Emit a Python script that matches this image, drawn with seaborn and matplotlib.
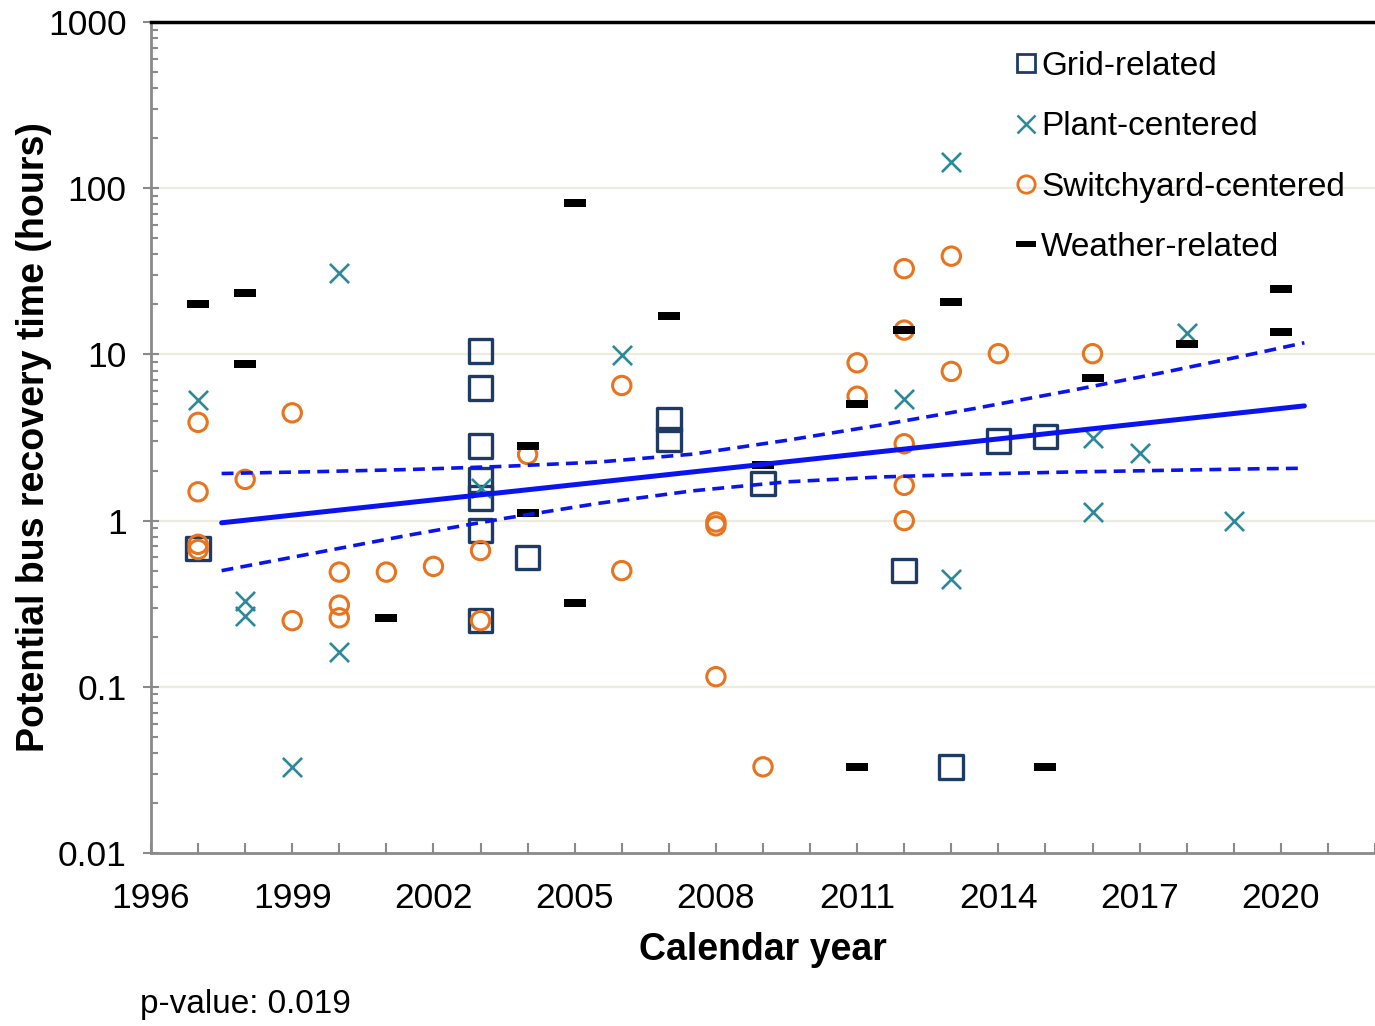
import numpy as np
import pandas as pd
import matplotlib
matplotlib.use("Agg")
import matplotlib.pyplot as plt
from matplotlib.lines import Line2D
from matplotlib.ticker import FixedLocator, FuncFormatter, MultipleLocator, LogLocator, NullFormatter
import seaborn as sns

# Recovery times (hours) by calendar year, per event category
grid_years = [1997, 2003, 2003, 2003, 2003, 2003, 2003, 2003, 2004, 2007, 2007, 2009, 2012, 2013, 2014, 2015]
grid_hours = [0.68, 10.5, 6.3, 2.8, 1.75, 1.37, 0.87, 0.25, 0.6, 4.06, 3.08, 1.67, 0.5, 0.033, 3.0, 3.2]

plant_years = [1997, 1998, 1998, 1999, 2000, 2000, 2003, 2006, 2012, 2013, 2013, 2016, 2016, 2017, 2018, 2019]
plant_hours = [5.3, 0.33, 0.265, 0.033, 31, 0.163, 1.57, 9.9, 5.36, 143, 0.445, 3.15, 1.13, 2.56, 13.5, 1.0]

switch_years = [1997, 1997, 1997, 1997, 1998, 1999, 1999, 2000, 2000, 2000, 2001, 2002, 2003, 2003,
                2004, 2006, 2006, 2008, 2008, 2008, 2009, 2011, 2011, 2012, 2012, 2012, 2012, 2012,
                2013, 2013, 2014, 2016]
switch_hours = [3.9, 1.49, 0.72, 0.67, 1.77, 4.45, 0.25, 0.49, 0.31, 0.26, 0.49, 0.53, 0.66, 0.25,
                2.5, 6.5, 0.5, 0.98, 0.93, 0.115, 0.033, 8.9, 5.6, 32.8, 14, 2.9, 1.63, 1.0,
                39, 7.9, 10.1, 10.1]

weather_years = [1997, 1998, 1998, 2001, 2004, 2004, 2005, 2005, 2007, 2009, 2011, 2011, 2012, 2013,
                 2015, 2016, 2018, 2020, 2020]
weather_hours = [20, 23.3, 8.7, 0.26, 2.83, 1.11, 82, 0.32, 17, 2.15, 5.0, 0.033, 14, 20.6,
                 0.033, 7.2, 11.6, 24.6, 13.6]

# Exponential trend and its confidence band
trend_years = [1997.5, 2020.5]
trend_hours = [0.97, 4.9]
band_years = [1997.5, 1999.5, 2001.5, 2003.5, 2005.5, 2007.5, 2009.5, 2011.5, 2013.5, 2015.5,
              2017.5, 2019.5, 2020.5]
band_upper = [1.92, 1.97, 2.03, 2.12, 2.25, 2.51, 3.04, 3.76, 4.73, 6.03, 7.78, 10.2, 11.75]
band_lower = [0.50, 0.64, 0.82, 1.03, 1.27, 1.51, 1.71, 1.83, 1.905, 1.96, 2.005, 2.05, 2.065]

categories = ["Grid-related", "Plant-centered", "Switchyard-centered", "Weather-related"]
colors = {"Grid-related": "#1f3b64", "Plant-centered": "#2b8a9a",
          "Switchyard-centered": "#e8741e", "Weather-related": "#000000"}
x_ticks = [1996, 1999, 2002, 2005, 2008, 2011, 2014, 2017, 2020]
y_ticks = [0.01, 0.1, 1, 10, 100, 1000]

frames = []
for name, yrs, hrs in [("Grid-related", grid_years, grid_hours),
                       ("Plant-centered", plant_years, plant_hours),
                       ("Switchyard-centered", switch_years, switch_hours),
                       ("Weather-related", weather_years, weather_hours)]:
    frames.append(pd.DataFrame({"year": yrs, "hours": hrs, "category": name}))
events = pd.concat(frames, ignore_index=True)

sns.set_theme(style="white")
plt.rcParams["font.family"] = ["Liberation Sans", "DejaVu Sans"]
plt.rcParams["text.color"] = "black"
plt.rcParams["axes.labelcolor"] = "black"

fig = plt.figure(figsize=(13.75, 10.26), dpi=100)
ax = fig.add_axes([151 / 1375, 1 - 853 / 1026, 1224 / 1375, 831 / 1026])
ax.set_yscale("log")
ax.set_xlim(1996, 2022)
ax.set_ylim(0.01, 1000)

for v in [0.1, 1, 10, 100]:
    ax.axhline(v, color="#ecebde", lw=1.6, zorder=0)

bar_marker = [(-1, -0.34), (1, -0.34), (1, 0.34), (-1, 0.34), (-1, -0.34)]
style = {
    "Grid-related": dict(marker="s", s=290, facecolor="none", linewidth=2.4),
    "Plant-centered": dict(marker="x", s=190, linewidth=1.9),
    "Switchyard-centered": dict(marker="o", s=175, facecolor="none", linewidth=2.2),
    "Weather-related": dict(marker=bar_marker, s=240, linewidth=0),
}
for name in categories:
    sub = events[events["category"] == name]
    kw = dict(style[name])
    col = colors[name]
    if name in ("Grid-related", "Switchyard-centered"):
        kw["edgecolor"] = col
    sns.scatterplot(data=sub, x="year", y="hours", color=col, ax=ax, legend=False,
                    zorder=3, **kw)

trend = pd.DataFrame({"year": trend_years, "hours": trend_hours})
band = pd.DataFrame({"year": band_years, "upper": band_upper, "lower": band_lower})
sns.lineplot(data=trend, x="year", y="hours", color="#0a14f0", lw=3.6, ax=ax, zorder=4)
sns.lineplot(data=band, x="year", y="upper", color="#0a14f0", lw=2.6, ax=ax, zorder=4,
             linestyle=(0, (3.3, 2.0)))
sns.lineplot(data=band, x="year", y="lower", color="#0a14f0", lw=2.6, ax=ax, zorder=4,
             linestyle=(0, (3.3, 2.0)))

# Axes styling
for side in ["left", "bottom"]:
    ax.spines[side].set_color("#8a8a8a")
    ax.spines[side].set_linewidth(2)
ax.spines["right"].set_visible(False)
ax.spines["top"].set_color("black")
ax.spines["top"].set_linewidth(2.5)

ax.xaxis.set_major_locator(FixedLocator(x_ticks))
ax.xaxis.set_minor_locator(MultipleLocator(1))
ax.yaxis.set_major_locator(FixedLocator(y_ticks))
ax.yaxis.set_minor_locator(LogLocator(base=10, subs=np.arange(2, 10)))
ax.yaxis.set_minor_formatter(NullFormatter())
ax.yaxis.set_major_formatter(FuncFormatter(lambda v, p: f"{v:g}"))

ax.tick_params(axis="x", which="both", direction="in", length=7, width=1.5, color="#8a8a8a",
               bottom=True, top=False, labelsize=25.5, pad=21, labelcolor="black")
ax.tick_params(axis="y", which="major", direction="inout", length=11, width=1.5, color="#8a8a8a",
               left=True, labelsize=25.5, pad=12, labelcolor="black")
ax.tick_params(axis="y", which="minor", direction="in", length=5, width=1.5, color="#8a8a8a", left=True)

ax.set_xlabel("Calendar year", fontsize=27, fontweight="bold")
ax.set_ylabel("Potential bus recovery time (hours)", fontsize=27, fontweight="bold")
ax.xaxis.set_label_coords(0.5, (853 - 932) / 831)
ax.yaxis.set_label_coords((52 - 151) / 1224, 0.5)

handles = [
    Line2D([], [], ls="none", marker="s", ms=12.5, mfc="none", mec=colors["Grid-related"], mew=2.0),
    Line2D([], [], ls="none", marker="x", ms=12.5, mec=colors["Plant-centered"], mew=1.8),
    Line2D([], [], ls="none", marker="o", ms=12.5, mfc="none", mec=colors["Switchyard-centered"], mew=2.0),
    Line2D([], [], ls="none", marker=bar_marker, ms=14, mfc="black", mec="black", mew=0),
]
ax.legend(handles, categories, loc="upper right", bbox_to_anchor=(0.992, 0.989), frameon=False,
          fontsize=24, handlelength=0.7, handletextpad=0.1, labelspacing=0.88, borderaxespad=0.2)

fig.text(140 / 1375, 1 - 1004 / 1026, "p-value: 0.019", fontsize=24, ha="left", va="center")

fig.savefig("out.png", dpi=100)
